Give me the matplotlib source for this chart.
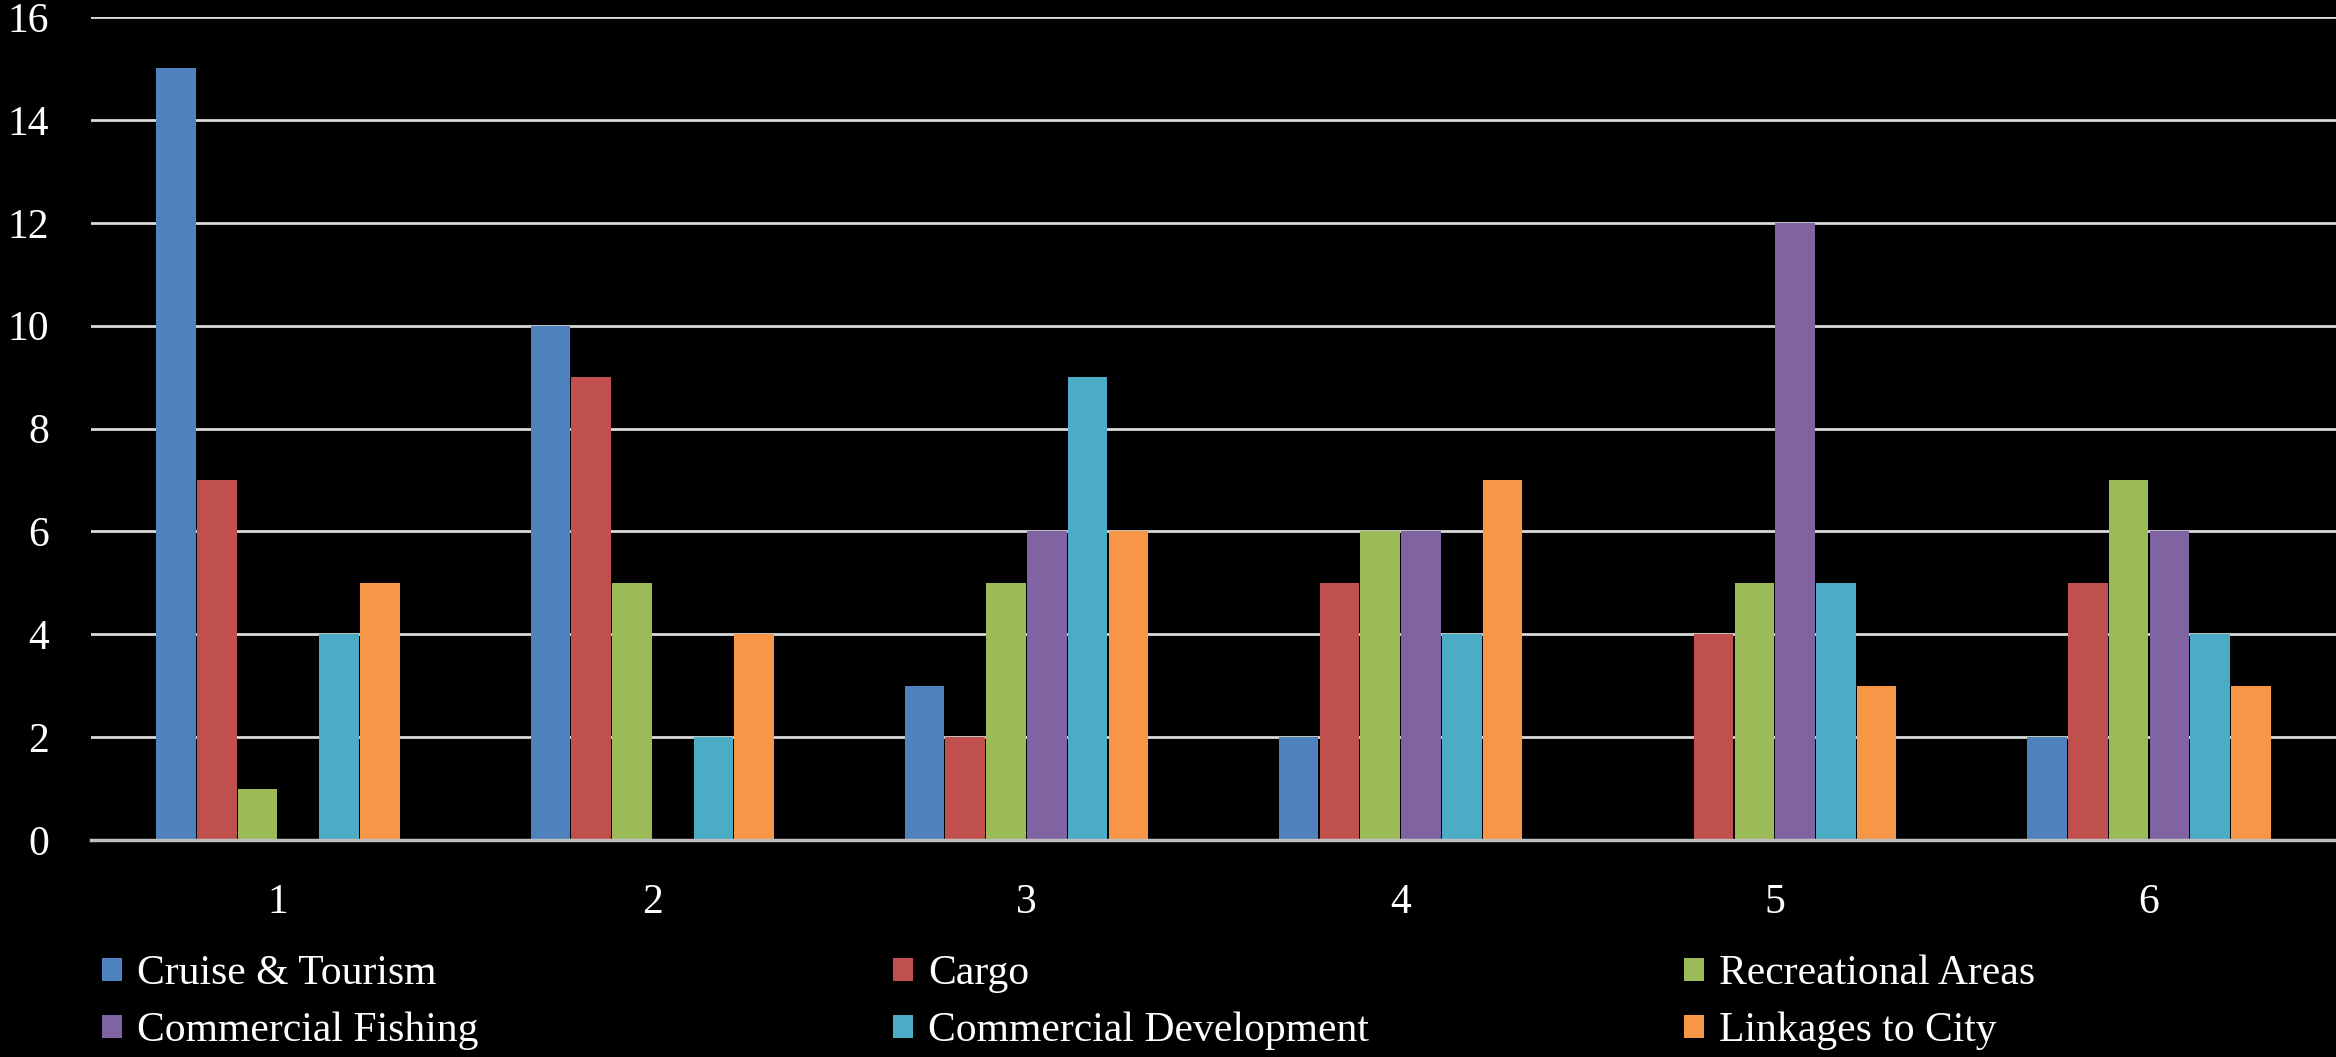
import matplotlib
matplotlib.use("Agg")
import matplotlib.pyplot as plt
import numpy as np

# Data
categories = ["1", "2", "3", "4", "5", "6"]
series_names = ["Cruise & Tourism", "Cargo", "Recreational Areas",
                "Commercial Fishing", "Commercial Development", "Linkages to City"]
cruise_tourism = [15, 10, 3, 2, 0, 2]
cargo = [7, 9, 2, 5, 4, 5]
recreational_areas = [1, 5, 5, 6, 5, 7]
commercial_fishing = [0, 0, 6, 6, 12, 6]
commercial_development = [4, 2, 9, 4, 5, 4]
linkages_to_city = [5, 4, 6, 7, 3, 3]
y_ticks = [0, 2, 4, 6, 8, 10, 12, 14, 16]

series_values = [cruise_tourism, cargo, recreational_areas,
                 commercial_fishing, commercial_development, linkages_to_city]
colors = ["#4F81BD", "#C0504D", "#9BBB59", "#8064A2", "#4BACC6", "#F79646"]

plt.rcParams["font.family"] = ["Liberation Serif", "DejaVu Serif"]
FS = 30

W, H = 2336, 1057
fig = plt.figure(figsize=(W / 100, H / 100), dpi=100, facecolor="black")
ax = fig.add_axes([91 / W, 1 - 840 / H, 1 - 91 / W, (840 - 17) / H])
ax.set_facecolor("black")

x = np.arange(len(categories))
n = len(series_values)
slot = 0.109
bar_w = slot * 0.97
handles = []
for i, (name, vals, c) in enumerate(zip(series_names, series_values, colors)):
    offs = (i - (n - 1) / 2) * slot
    b = ax.bar(x + offs, vals, width=bar_w, color=c, label=name, zorder=3)
    handles.append(b)

ax.set_xlim(-0.5, len(categories) - 0.5)
ax.set_ylim(0, 16)
ax.set_yticks(y_ticks)
ax.set_yticklabels([str(v) for v in y_ticks])
ax.set_xticks(x)
ax.set_xticklabels(categories)
ax.yaxis.grid(True, color="#D9D9D9", linewidth=2, zorder=0)
ax.set_axisbelow(True)
for s in ["top", "right", "left"]:
    ax.spines[s].set_visible(False)
ax.spines["bottom"].set_color("#BFBFBF")
ax.spines["bottom"].set_linewidth(2.5)
ax.spines["bottom"].set_zorder(4)
ax.tick_params(axis="both", length=0, colors="white", labelsize=FS)
ax.tick_params(axis="y", pad=30)
ax.tick_params(axis="x", pad=31)

# Legend: three columns, two rows, evenly spaced
col_x = [102, 893, 1684]
legend_y = 1 - 1002.5 / H
for col in range(3):
    hs = [handles[col], handles[col + 3]]
    labels = [series_names[col], series_names[col + 3]]
    leg = fig.legend(hs, labels, loc="center left",
                     bbox_to_anchor=(col_x[col] / W, legend_y),
                     frameon=False, borderpad=0, borderaxespad=0,
                     fontsize=FS, labelcolor="white",
                     handlelength=0.49, handleheight=0.49,
                     handletextpad=0.35, labelspacing=0.45)

fig.savefig("out.png", dpi=100, facecolor="black")
